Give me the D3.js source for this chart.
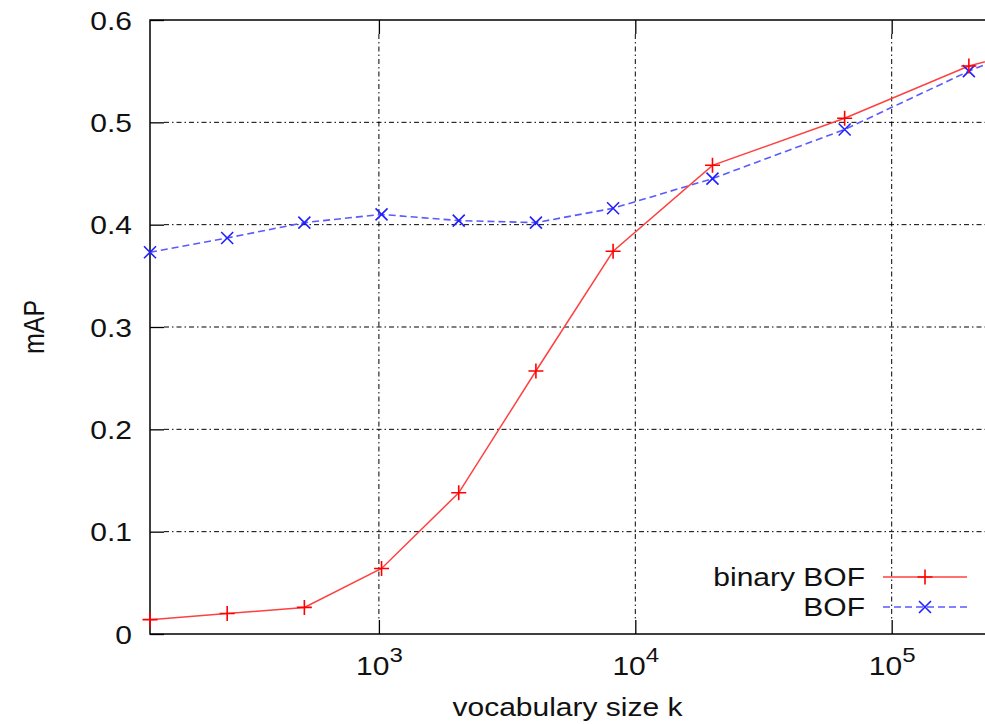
<!DOCTYPE html>
<html>
<head>
<meta charset="utf-8">
<script src="https://cdn.jsdelivr.net/npm/d3@7"></script>
<style>
  body { margin: 0; background: #fff; }
  text { font-family: "Liberation Sans", Arial, sans-serif; fill: #111; }
</style>
</head>
<body>
<div id="chart"></div>
<script>
// vocabulary sizes k (2^7 .. 2^13, then larger vocabularies)
const vocabSizes = [128, 256, 512, 1024, 2048, 4096, 8192, 20000, 65536, 200000, 262144];
const binaryBOF  = [0.014, 0.020, 0.026, 0.064, 0.138, 0.257, 0.374, 0.458, 0.504, 0.555, 0.563];
const plainBOF   = [0.373, 0.387, 0.402, 0.410, 0.404, 0.402, 0.416, 0.445, 0.493, 0.550, 0.562];
const yTicks = [0, 0.1, 0.2, 0.3, 0.4, 0.5, 0.6];
const xTicks = [1e3, 1e4, 1e5];
const seriesNames = ["binary BOF", "BOF"];

const W = 985, H = 724;
const mLeft = 150, mRight = 999, mTop = 20, mBottom = 634;
const SX = 1.2;        // source picture is stretched a little horizontally
const FS = 25;

const svg = d3.select("#chart").append("svg")
    .attr("width", W).attr("height", H);
svg.append("rect").attr("width", W).attr("height", H).attr("fill", "#fff");

const x = d3.scaleLog().domain([128, 262144]).range([mLeft, mRight]);
const y = d3.scaleLinear().domain([0, 0.6]).range([mBottom, mTop]);

// --- grid (dash-dot, gnuplot style) ---
const grid = svg.append("g")
    .attr("stroke", "#000").attr("stroke-width", 1)
    .attr("stroke-dasharray", "5,3,1.5,3");
grid.selectAll(".gy").data(yTicks.filter(d => d > 0 && d < 0.6)).enter()
    .append("line")
    .attr("x1", mLeft + 14).attr("x2", mRight)
    .attr("y1", d => y(d)).attr("y2", d => y(d));
grid.selectAll(".gx").data(xTicks).enter()
    .append("line")
    .attr("x1", d => x(d)).attr("x2", d => x(d))
    .attr("y1", mTop + 14).attr("y2", mBottom - 14);

// --- axes with inward ticks ---
const yAxis = svg.append("g")
    .attr("transform", `translate(${mLeft},0)`)
    .call(d3.axisLeft(y).tickValues(yTicks).tickSize(-14).tickPadding(18)
        .tickFormat(d => d === 0 ? "0" : d3.format(".1f")(d)));
yAxis.select(".domain").remove();
yAxis.selectAll("line").attr("stroke", "#000").attr("stroke-width", 1.3);
yAxis.selectAll("text")
    .attr("x", 0).attr("dy", "0.36em")
    .attr("transform", `translate(-18,0) scale(${SX},1)`)
    .style("font-size", FS + "px")
    .attr("font-family", null).attr("font-size", null).attr("fill", "#111");

const xAxis = svg.append("g")
    .attr("transform", `translate(0,${mBottom})`)
    .call(d3.axisBottom(x).tickValues(xTicks).tickSize(-14).tickPadding(0).tickFormat(""));
xAxis.select(".domain").remove();
xAxis.selectAll("line").attr("stroke", "#000").attr("stroke-width", 1.3);
xAxis.selectAll(".tick text").each(function(d) {
    const t = d3.select(this)
        .attr("y", 0).attr("dy", null)
        .attr("transform", `translate(0,41) scale(${SX},1)`)
        .style("font-size", FS + "px")
        .attr("font-family", null).attr("font-size", null).attr("fill", "#111")
        .attr("text-anchor", "middle");
    t.text(null);
    t.append("tspan").text("10");
    t.append("tspan").attr("dy", -13).style("font-size", "20px")
        .text(Math.round(Math.log10(d)));
});

// mirrored ticks on the top edge
const xTop = svg.append("g")
    .attr("transform", `translate(0,${mTop})`)
    .call(d3.axisTop(x).tickValues(xTicks).tickSize(-14).tickFormat(""));
xTop.select(".domain").remove();
xTop.selectAll("line").attr("stroke", "#000").attr("stroke-width", 1.3);

// border
svg.append("rect")
    .attr("x", mLeft).attr("y", mTop)
    .attr("width", mRight - mLeft).attr("height", mBottom - mTop)
    .attr("fill", "none").attr("stroke", "#000").attr("stroke-width", 1.5);

// --- series ---
const redData = vocabSizes.map((k, i) => ({ k, v: binaryBOF[i] }));
const blueData = vocabSizes.map((k, i) => ({ k, v: plainBOF[i] }));
const line = d3.line().x(d => x(d.k)).y(d => y(d.v));

svg.append("path").datum(blueData)
    .attr("d", line).attr("fill", "none")
    .attr("stroke", "#5a5aff").attr("stroke-width", 1.6)
    .attr("stroke-dasharray", "7,4");
svg.append("path").datum(redData)
    .attr("d", line).attr("fill", "none")
    .attr("stroke", "#ff4040").attr("stroke-width", 1.5);

const plusPath = s => `M${-s},0H${s}M0,${-s}V${s}`;
const crossPath = s => `M${-s},${-s}L${s},${s}M${-s},${s}L${s},${-s}`;

svg.append("g").selectAll("path").data(blueData).enter()
    .append("path")
    .attr("transform", d => `translate(${x(d.k)},${y(d.v)})`)
    .attr("d", crossPath(6))
    .attr("stroke", "#2020ff").attr("stroke-width", 1.6).attr("fill", "none");
svg.append("g").selectAll("path").data(redData).enter()
    .append("path")
    .attr("transform", d => `translate(${x(d.k)},${y(d.v)})`)
    .attr("d", plusPath(7.5))
    .attr("stroke", "#ff0000").attr("stroke-width", 1.6).attr("fill", "none");

// --- legend ---
const legend = svg.append("g");
const legendRows = [
    { name: seriesNames[0], y: 577, color: "#ff4040", mark: "#ff0000", dash: null, shape: plusPath(7.5) },
    { name: seriesNames[1], y: 607, color: "#5a5aff", mark: "#2020ff", dash: "7,4", shape: crossPath(6) }
];
legendRows.forEach(r => {
    legend.append("text")
        .attr("transform", `translate(865,${r.y}) scale(${SX},1)`)
        .attr("dy", "0.36em").attr("text-anchor", "end")
        .style("font-size", FS + "px")
        .text(r.name);
    legend.append("line")
        .attr("x1", 883).attr("x2", 967).attr("y1", r.y).attr("y2", r.y)
        .attr("stroke", r.color).attr("stroke-width", 1.6)
        .attr("stroke-dasharray", r.dash);
    legend.append("path")
        .attr("transform", `translate(925,${r.y})`)
        .attr("d", r.shape)
        .attr("stroke", r.mark).attr("stroke-width", 1.6).attr("fill", "none");
});

// --- axis titles ---
svg.append("text")
    .attr("transform", `translate(${(mLeft + 985) / 2},${H - 8}) scale(${SX},1)`)
    .attr("text-anchor", "middle")
    .style("font-size", FS + "px")
    .text("vocabulary size k");
svg.append("text")
    .attr("transform", `translate(44,${(mTop + mBottom) / 2}) rotate(-90) scale(1,${SX})`)
    .attr("text-anchor", "middle")
    .style("font-size", FS + "px")
    .text("mAP");
</script>
</body>
</html>
